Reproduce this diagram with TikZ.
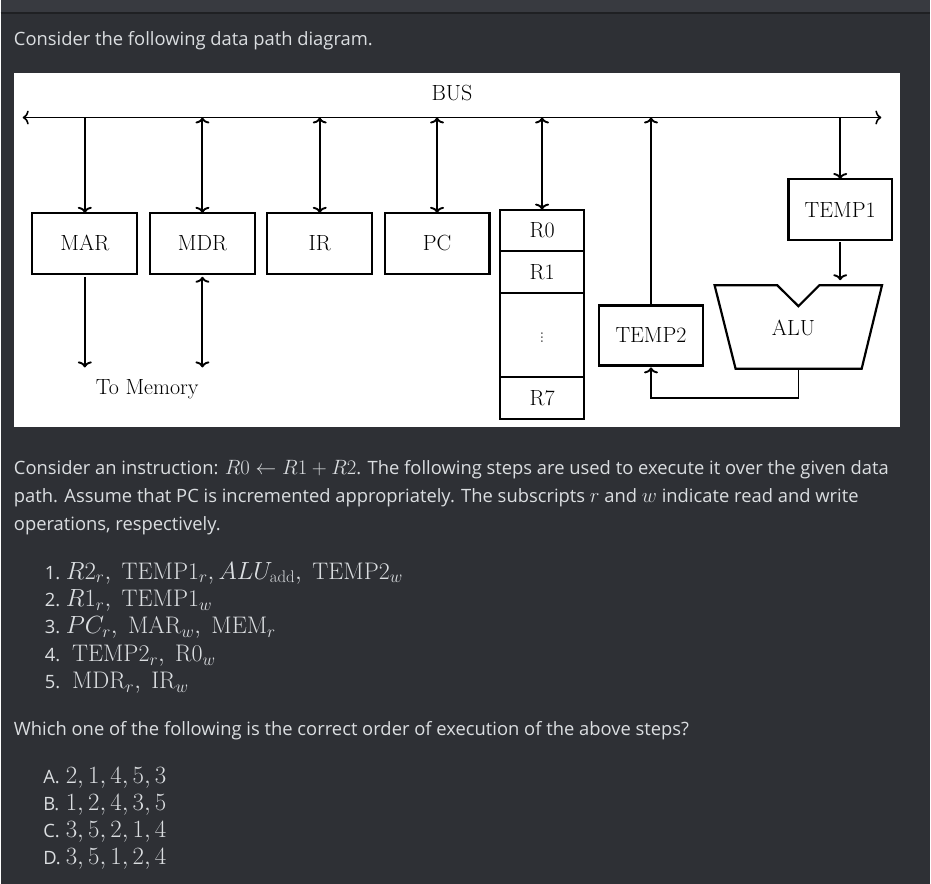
\documentclass[tikz,border=0pt]{standalone}
\usepackage{amsmath}
\usepackage{fontspec}
\newfontfamily\uifont{Open Sans}
\usetikzlibrary{arrows.meta,positioning}
\definecolor{pagebg}{HTML}{2E3035}
\definecolor{barbg}{HTML}{383A40}
\definecolor{barline}{HTML}{1F2023}
\definecolor{ink}{HTML}{DBDEE1}
\tikzset{
  >={To[length=6pt,width=14pt]},
}
\tikzstyle{reg}=[draw,line width=2.2pt,inner sep=0pt,outer sep=0pt,minimum width=105pt,minimum height=61pt]
\tikzstyle{slot}=[reg,minimum width=84.3pt]
\tikzstyle{link}=[line width=1.9pt]
\tikzstyle{txtline}=[ink,anchor=base west,inner sep=0pt,font=\uifont\fontsize{18.4}{22}\selectfont]
\newcommand\km[1]{{\fontsize{22.5}{26}\selectfont$#1$}}
\newcommand\kmopt[1]{{\fontsize{23.3}{27}\selectfont$#1$}}
\newcommand\kmbig[1]{{\fontsize{24}{28}\selectfont$#1$}}

\begin{document}
\begin{tikzpicture}[x=1pt,y=-1pt]
    \fill[pagebg] (0,0) rectangle (931,885);
    \fill[barbg] (0,0) rectangle (931,13);
    \draw[barline,line width=1.5pt] (0,13)--(931,13);
    \fill[white] (13,73) rectangle (901,428);
    \useasboundingbox (0,0) rectangle (931,885);
    % data path
    \begin{scope}[font=\fontsize{22}{26}\selectfont,text=black]
      \coordinate (busL) at (22,117.7);
      \coordinate (busR) at (882,117.7);
      \draw[<->,line width=1.6pt] (busL) -- (busR);
      \node (bus) at (452,93) {BUS};
      \node[reg] (mar) at (84.2,243.7) {MAR};
      \node[reg] (mdr) at (202,243.7) {MDR};
      \node[reg] (ir) at (319.5,243.7) {IR};
      \node[reg] (pc) at (437,243.7) {PC};
      \node[slot,minimum height=41.7pt] (r0) at (542.2,230.8) {R0};
      \node[slot,minimum height=41.6pt,below=0pt of r0] (r1) {R1};
      \node[slot,minimum height=84pt,below=0pt of r1,text=black!70] (rdots) {\fontsize{21}{24}\selectfont$\vdots$};
      \node[slot,minimum height=42.7pt,below=0pt of rdots] (r7) {R7};
      \node[reg,minimum width=104pt,minimum height=60pt] (temp2) at (651.3,336) {TEMP2};
      \node[reg,minimum width=103.7pt,minimum height=61.4pt] (temp1) at (840.8,210) {TEMP1};
      \coordinate (aluA) at (715,285.7);
      \coordinate (aluB) at (777.7,285.7);
      \coordinate (aluN) at (799,306.7);
      \coordinate (aluC) at (820,285.7);
      \coordinate (aluD) at (882.7,285.7);
      \coordinate (aluE) at (862.3,369.3);
      \coordinate (aluF) at (736,369.3);
      \draw[line width=2.2pt] (aluA) -- (aluB) -- (aluN) -- (aluC) -- (aluD) -- (aluE) -- (aluF) -- cycle;
      \node (alu) at (794,328) {ALU};
      \coordinate (aluOut) at (799,369.3);
      \coordinate (loop) at (799,398.3);
      \draw[->,link] (mar |- busL) -- (mar.north);
      \foreach \r in {mdr,ir,pc,r0}
        \draw[<->,link] (\r |- busL) -- (\r.north);
      \draw[->,link] (temp2.north) -- (temp2 |- busL);
      \draw[->,link] (temp1 |- busL) -- (temp1.north);
      \draw[->,link,shorten <=2pt,shorten >=5pt] (temp1.south) -- (temp1.south |- aluD);
      \draw[->,link,shorten >=2pt] (aluOut) -- (loop) -| (temp2.south);
      \coordinate (memA) at (84.2,368);
      \coordinate (memB) at (202,368);
      \draw[->,link,shorten <=3pt] (mar.south) -- (memA);
      \draw[<->,link,shorten <=3pt] (mdr.south) -- (memB);
      \node (mem) at (146.7,390) {To Memory};
    \end{scope}
    % question text
    \node[txtline] (intro) at (13,46) {Consider the following data path diagram.};
    \node[txtline] (q1) at (13,475) {Consider an instruction: \km{R0 \leftarrow R1 + R2}. The following steps are used to execute it over the given data};
    \node[txtline] (q2) at (13,503) {path. Assume that PC is incremented appropriately. The subscripts \km{r} and \km{w} indicate read and write};
    \node[txtline] (q3) at (13,531.5) {operations, respectively.};
    \foreach \k/\y/\m in {1/580/{R2_r,\ \mathrm{TEMP1}_r, ALU_{\mathrm{add}},\ \mathrm{TEMP2}_w},
        2/607.5/{R1_r,\ \mathrm{TEMP1}_w},
        3/635/{PC_r,\ \mathrm{MAR}_w,\ \mathrm{MEM}_r},
        4/662.5/{\ \mathrm{TEMP2}_r,\ \mathrm{R0}_w},
        5/690/{\ \mathrm{MDR}_r,\ \mathrm{IR}_w}} {
      \node[txtline] (num\k) at (44,\y) {\k.};
      \node[txtline] (step\k) at (65,\y) {\kmbig{\m}};
    }
    \node[txtline] (ask) at (13,737) {Which one of the following is the correct order of execution of the above steps?};
    \foreach \k/\y/\m in {A/785/{2,1,4,5,3},B/812/{1,2,4,3,5},C/839/{3,5,2,1,4},D/866/{3,5,1,2,4}} {
      \node[txtline] (opt\k) at (42.4,\y) {\k.};
      \node[txtline] (ans\k) at (65,\y) {\kmopt{\m}};
    }
\end{tikzpicture}
\end{document}
